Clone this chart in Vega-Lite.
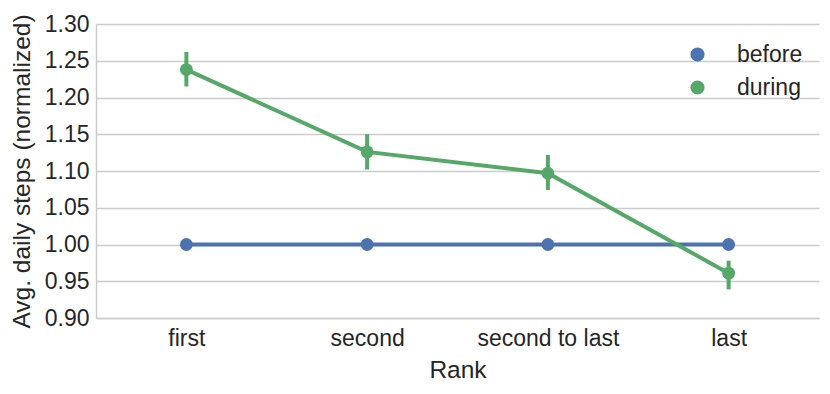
{
  "$schema": "https://vega.github.io/schema/vega-lite/v6.json",
  "width": 723,
  "height": 294,
  "autosize": {"type": "none"},
  "padding": {"left": 96, "top": 24, "right": 11, "bottom": 76},
  "config": {
    "font": "Liberation Sans",
    "view": {"stroke": null},
    "axis": {
      "domainColor": "#cccccc",
      "domainWidth": 1.5,
      "gridColor": "#cccccc",
      "gridWidth": 1.3,
      "ticks": false,
      "labelColor": "#262626",
      "titleColor": "#262626",
      "labelFontSize": 23,
      "titleFontSize": 24.5,
      "titleFontWeight": "normal",
      "labelOverlap": false
    },
    "legend": {"labelFontSize": 23, "labelColor": "#262626"}
  },
  "data": {
    "values": [
      {"rank": "first", "period": "before", "value": 1.0, "lo": 1.0, "hi": 1.0},
      {"rank": "second", "period": "before", "value": 1.0, "lo": 1.0, "hi": 1.0},
      {"rank": "second to last", "period": "before", "value": 1.0, "lo": 1.0, "hi": 1.0},
      {"rank": "last", "period": "before", "value": 1.0, "lo": 1.0, "hi": 1.0},
      {"rank": "first", "period": "during", "value": 1.238, "lo": 1.215, "hi": 1.262},
      {"rank": "second", "period": "during", "value": 1.126, "lo": 1.102, "hi": 1.150},
      {"rank": "second to last", "period": "during", "value": 1.097, "lo": 1.074, "hi": 1.122},
      {"rank": "last", "period": "during", "value": 0.961, "lo": 0.939, "hi": 0.978}
    ]
  },
  "encoding": {
    "x": {
      "field": "rank",
      "type": "ordinal",
      "sort": ["first", "second", "second to last", "last"],
      "scale": {"type": "point", "padding": 0.5},
      "axis": {"title": "Rank", "labelAngle": 0, "grid": false, "labelPadding": 9, "titlePadding": 8}
    },
    "color": {
      "field": "period",
      "type": "nominal",
      "scale": {"domain": ["before", "during"], "range": ["#4C72B0", "#55A868"]},
      "legend": {
        "title": null,
        "orient": "none",
        "legendX": 590,
        "legendY": 19,
        "symbolType": "circle",
        "symbolSize": 200,
        "symbolOpacity": 1,
        "symbolStrokeWidth": 0,
        "labelOffset": 28,
        "rowPadding": 9
      }
    }
  },
  "layer": [
    {
      "mark": {"type": "line", "strokeWidth": 4},
      "encoding": {
        "y": {
          "field": "value",
          "type": "quantitative",
          "scale": {"domain": [0.9, 1.3], "zero": false, "nice": false},
          "axis": {
            "title": "Avg. daily steps (normalized)",
            "values": [0.9, 0.95, 1.0, 1.05, 1.1, 1.15, 1.2, 1.25, 1.3],
            "tickCount": 9,
            "format": ".2f",
            "labelOverlap": false,
            "labelPadding": 7,
            "titlePadding": 10
          }
        }
      }
    },
    {
      "mark": {"type": "rule", "strokeWidth": 4},
      "encoding": {
        "y": {
          "field": "lo",
          "type": "quantitative",
          "axis": {
            "title": "Avg. daily steps (normalized)",
            "values": [0.9, 0.95, 1.0, 1.05, 1.1, 1.15, 1.2, 1.25, 1.3],
            "tickCount": 9,
            "format": ".2f",
            "labelOverlap": false,
            "labelPadding": 7,
            "titlePadding": 10
          }
        },
        "y2": {"field": "hi"}
      }
    },
    {
      "mark": {"type": "point", "filled": true, "opacity": 1, "size": 165},
      "encoding": {
        "y": {
          "field": "value",
          "type": "quantitative",
          "axis": {
            "title": "Avg. daily steps (normalized)",
            "values": [0.9, 0.95, 1.0, 1.05, 1.1, 1.15, 1.2, 1.25, 1.3],
            "tickCount": 9,
            "format": ".2f",
            "labelOverlap": false,
            "labelPadding": 7,
            "titlePadding": 10
          }
        }
      }
    }
  ]
}
